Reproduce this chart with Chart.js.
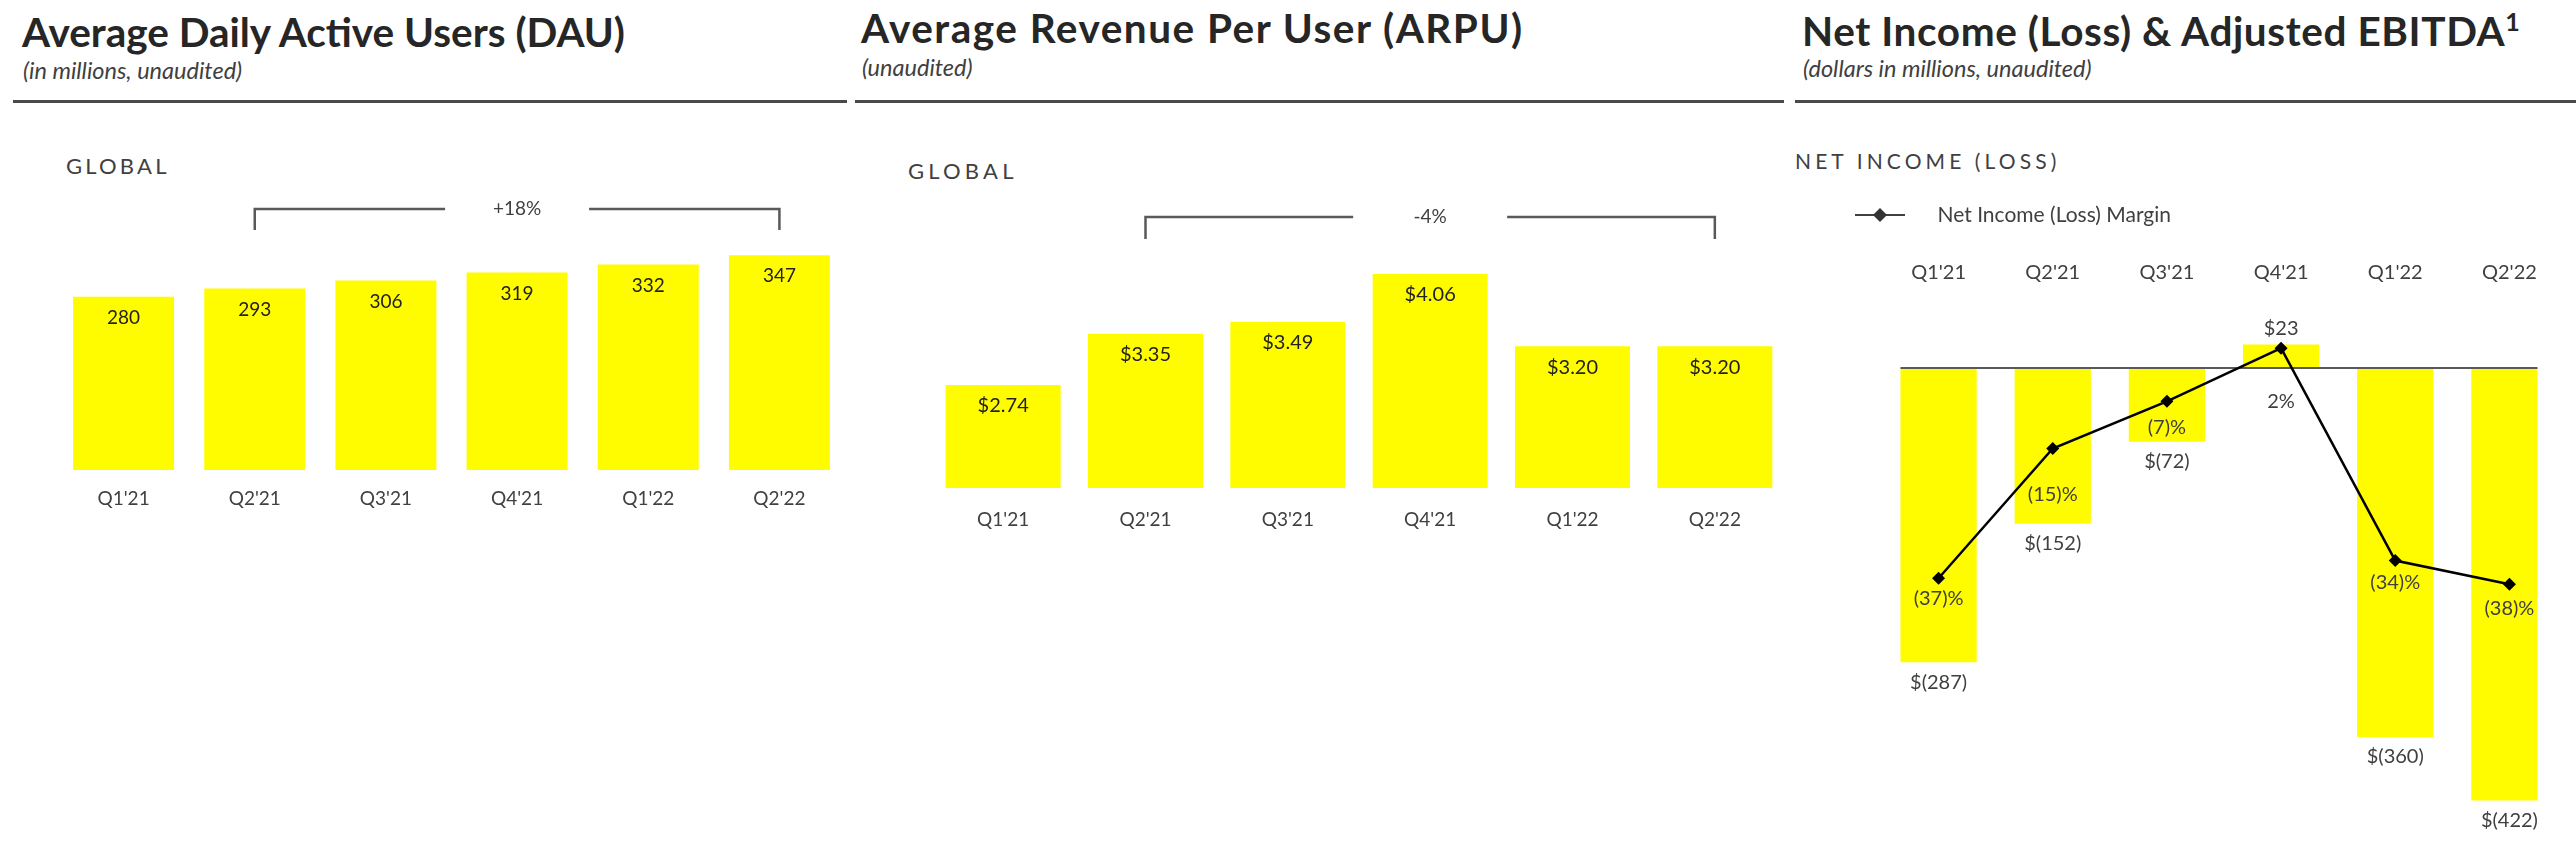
<!DOCTYPE html>
<html>
<head>
<meta charset="utf-8">
<title>DAU, ARPU, Net Income</title>
<script src="https://cdn.jsdelivr.net/npm/chart.js@4.4.1/dist/chart.umd.min.js"></script>
<style>
  html, body { margin: 0; padding: 0; background: #fff; }
  body { width: 2576px; height: 850px; position: relative; overflow: hidden; font-family: Lato, sans-serif; }
  .t { position: absolute; white-space: nowrap; line-height: 1; }
  .title { font-weight: 700; font-size: 40.5px; color: #262626; }
  .sub { font-style: italic; font-size: 23.5px; color: #404040; }
  .section { font-size: 22px; letter-spacing: 4.2px; color: #404040; }
  .rule { position: absolute; top: 100px; height: 3px; background: #4a4a4a; }
  canvas { position: absolute; }
</style>
</head>
<body>

<div class="t title" style="left:22px; top:12px;">Average Daily Active Users (DAU)</div>
<div class="t sub" style="left:23px; top:59px;">(in millions, unaudited)</div>
<div class="rule" style="left:13px; width:834px;"></div>
<div class="t section" style="left:66px; top:155px; letter-spacing:3.2px;">GLOBAL</div>

<div class="t title" style="left:861px; top:8px; letter-spacing:1.5px;">Average Revenue Per User (ARPU)</div>
<div class="t sub" style="left:862px; top:56px;">(unaudited)</div>
<div class="rule" style="left:855px; width:929px;"></div>
<div class="t section" style="left:908px; top:160px;">GLOBAL</div>

<div class="t title" style="left:1802px; top:9px; letter-spacing:0.6px;">Net Income (Loss) &amp; Adjusted EBITDA<span style="font-size:25px; vertical-align:15px;">1</span></div>
<div class="t sub" style="left:1803px; top:57px;">(dollars in millions, unaudited)</div>
<div class="rule" style="left:1795px; width:781px;"></div>
<div class="t section" style="left:1795px; top:150px; font-size:21px; letter-spacing:4.1px;">NET INCOME (LOSS)</div>

<canvas id="dau" width="787" height="740" style="left:58px; top:110px;"></canvas>
<canvas id="arpu" width="854" height="740" style="left:932px; top:110px;"></canvas>
<canvas id="netIncome" width="728" height="740" style="left:1845px; top:110px;"></canvas>

<script>
// values
const quarters = ["Q1'21", "Q2'21", "Q3'21", "Q4'21", "Q1'22", "Q2'22"];
const dauMillions = [280, 293, 306, 319, 332, 347];
const arpuDollars = [2.74, 3.35, 3.49, 4.06, 3.20, 3.20];
const netIncomeMillions = [-287, -152, -72, 23, -360, -422];
const netIncomeMarginPct = [-37, -15, -7, 2, -34, -38];
const dauGrowthLabel = '+18%';
const arpuGrowthLabel = '-4%';
const marginLegendLabel = 'Net Income (Loss) Margin';

const YELLOW = '#FFFC00';
const TEXT = '#404040';
const DARK = '#222222';

Chart.defaults.font.family = 'Lato';
Chart.defaults.color = TEXT;
Chart.defaults.animation = false;
Chart.defaults.events = [];
Chart.defaults.plugins.tooltip.enabled = false;

// draws the value label of every element of a dataset (config lives on the dataset)
const valueLabels = {
  id: 'valueLabels',
  afterDatasetsDraw(chart) {
    const ctx = chart.ctx;
    chart.data.datasets.forEach((ds, di) => {
      const cfg = ds.valueLabel;
      if (!cfg) return;
      const meta = chart.getDatasetMeta(di);
      ctx.save();
      ctx.font = cfg.font;
      ctx.fillStyle = cfg.color;
      ctx.textAlign = 'center';
      ctx.textBaseline = 'middle';
      meta.data.forEach((el, i) => {
        const v = ds.data[i];
        ctx.fillText(cfg.format(v), el.x, el.y + cfg.offset(v, i));
      });
      ctx.restore();
    });
  }
};

// bracket spanning two categories with the growth text in its gap
function growthBracket(text, fromIndex, toIndex, topDy, bottomDy, gapHalf) {
  return {
    id: 'growthBracket',
    afterDraw(chart) {
      const ctx = chart.ctx;
      const xs = chart.scales.x;
      const x1 = xs.getPixelForValue(fromIndex);
      const x2 = xs.getPixelForValue(toIndex);
      const top = chart.chartArea.top + topDy;
      const bottom = chart.chartArea.top + bottomDy;
      const mid = (x1 + x2) / 2;
      ctx.save();
      ctx.strokeStyle = '#595959';
      ctx.lineWidth = 2.5;
      ctx.beginPath();
      ctx.moveTo(x1, bottom);
      ctx.lineTo(x1, top);
      ctx.lineTo(mid - gapHalf, top);
      ctx.moveTo(mid + gapHalf, top);
      ctx.lineTo(x2, top);
      ctx.lineTo(x2, bottom);
      ctx.stroke();
      ctx.font = '19px Lato';
      ctx.fillStyle = TEXT;
      ctx.textAlign = 'center';
      ctx.textBaseline = 'middle';
      ctx.fillText(text, mid, top);
      ctx.restore();
    }
  };
}

function simpleBarChart(id, values, opts) {
  return new Chart(document.getElementById(id), {
    type: 'bar',
    data: {
      labels: quarters,
      datasets: [{
        data: values,
        backgroundColor: YELLOW,
        borderWidth: 0,
        barPercentage: opts.barPercentage,
        categoryPercentage: 1,
        valueLabel: {
          font: opts.labelFont,
          color: DARK,
          format: opts.format,
          offset: () => 21
        }
      }]
    },
    options: {
      responsive: false,
      layout: { padding: opts.padding },
      plugins: { legend: { display: false } },
      scales: {
        x: {
          grid: { display: false, drawTicks: false },
          border: { display: false },
          ticks: { font: { size: 19 }, color: TEXT, padding: opts.tickPadding }
        },
        y: { display: false, min: opts.min, max: opts.max }
      }
    },
    plugins: [valueLabels, growthBracket(opts.growth, 1, 5, opts.bracketTop, 0, opts.gapHalf)]
  });
}

simpleBarChart('dau', dauMillions, {
  barPercentage: 0.77,
  labelFont: '19px Lato',
  format: v => String(v),
  padding: { top: 120, bottom: 322, left: 0, right: 0 },
  tickPadding: 17.6,
  min: 0,
  max: 387.7,
  growth: dauGrowthLabel,
  bracketTop: -21,
  gapHalf: 72
});

simpleBarChart('arpu', arpuDollars, {
  barPercentage: 0.808,
  labelFont: '20px Lato',
  format: v => '$' + v.toFixed(2),
  padding: { top: 129, bottom: 298, left: 0, right: 0 },
  tickPadding: 20.6,
  min: 1.515,
  max: 4.476,
  growth: arpuGrowthLabel,
  bracketTop: -22,
  gapHalf: 77
});

// net income panel
const BAR_CLIP_RIGHT = -29;
const MARGIN_LABEL_DY = [20, 46, 26, 53, 22, 24];

const legendMarker = document.createElement('canvas');
legendMarker.width = 72;
legendMarker.height = 18;
(function () {
  const c = legendMarker.getContext('2d');
  c.strokeStyle = '#404040';
  c.lineWidth = 2;
  c.beginPath();
  c.moveTo(0, 9);
  c.lineTo(50, 9);
  c.stroke();
  c.fillStyle = '#333';
  c.beginPath();
  c.moveTo(25, 2);
  c.lineTo(32, 9);
  c.lineTo(25, 16);
  c.lineTo(18, 9);
  c.closePath();
  c.fill();
})();

const zeroLine = {
  id: 'zeroLine',
  afterDatasetDraw(chart, args) {
    if (args.index !== 0) return;
    const first = args.meta.data[0];
    const y0 = chart.scales.y.getPixelForValue(0);
    const ctx = chart.ctx;
    ctx.save();
    ctx.strokeStyle = '#595959';
    ctx.lineWidth = 2;
    ctx.beginPath();
    ctx.moveTo(first.x - first.width / 2, y0);
    ctx.lineTo(chart.chartArea.right + BAR_CLIP_RIGHT, y0);
    ctx.stroke();
    ctx.restore();
  }
};

new Chart(document.getElementById('netIncome'), {
  data: {
    labels: quarters,
    datasets: [{
      type: 'bar',
      label: 'Net Income (Loss)',
      data: netIncomeMillions,
      yAxisID: 'y',
      order: 1,
      backgroundColor: YELLOW,
      borderWidth: 0,
      barPercentage: 0.668,
      categoryPercentage: 1,
      clip: { left: false, top: false, right: BAR_CLIP_RIGHT, bottom: false },
      valueLabel: {
        font: '20px Lato',
        color: TEXT,
        format: v => (v < 0 ? '$(' + (-v) + ')' : '$' + v),
        offset: v => (v < 0 ? 20 : -16)
      }
    }, {
      type: 'line',
      label: marginLegendLabel,
      data: netIncomeMarginPct,
      yAxisID: 'y1',
      order: 0,
      borderColor: '#000',
      borderWidth: 2.5,
      tension: 0,
      pointStyle: 'rectRot',
      pointRadius: 6.5,
      pointBackgroundColor: '#000',
      pointBorderWidth: 0,
      clip: false,
      valueLabel: {
        font: '20px Lato',
        color: TEXT,
        format: v => (v < 0 ? '(' + (-v) + ')%' : v + '%'),
        offset: (v, i) => MARGIN_LABEL_DY[i]
      }
    }]
  },
  options: {
    responsive: false,
    layout: { padding: { top: 84.5, bottom: 10, left: 0, right: 0 } },
    plugins: {
      legend: {
        display: true,
        position: 'top',
        align: 'start',
        labels: {
          usePointStyle: true,
          pointStyleWidth: 72,
          padding: 10,
          color: TEXT,
          font: { size: 21 },
          filter: item => item.datasetIndex === 1,
          generateLabels(chart) {
            return Chart.defaults.plugins.legend.labels.generateLabels(chart)
              .map(item => Object.assign(item, { pointStyle: legendMarker }));
          }
        }
      }
    },
    scales: {
      x: {
        position: 'top',
        grid: { display: false, drawTicks: false },
        border: { display: false },
        ticks: { font: { size: 20 }, color: TEXT, padding: 25.5 }
      },
      y: {
        position: 'left',
        min: -460.5,
        max: 56.1,
        grid: { display: false, drawTicks: false },
        border: { display: false },
        ticks: { display: false },
        afterFit(scale) { scale.width = 36.5; }
      },
      y1: {
        position: 'right',
        display: false,
        min: -81.36,
        max: 8.39
      }
    }
  },
  plugins: [zeroLine, valueLabels]
});
</script>
</body>
</html>
